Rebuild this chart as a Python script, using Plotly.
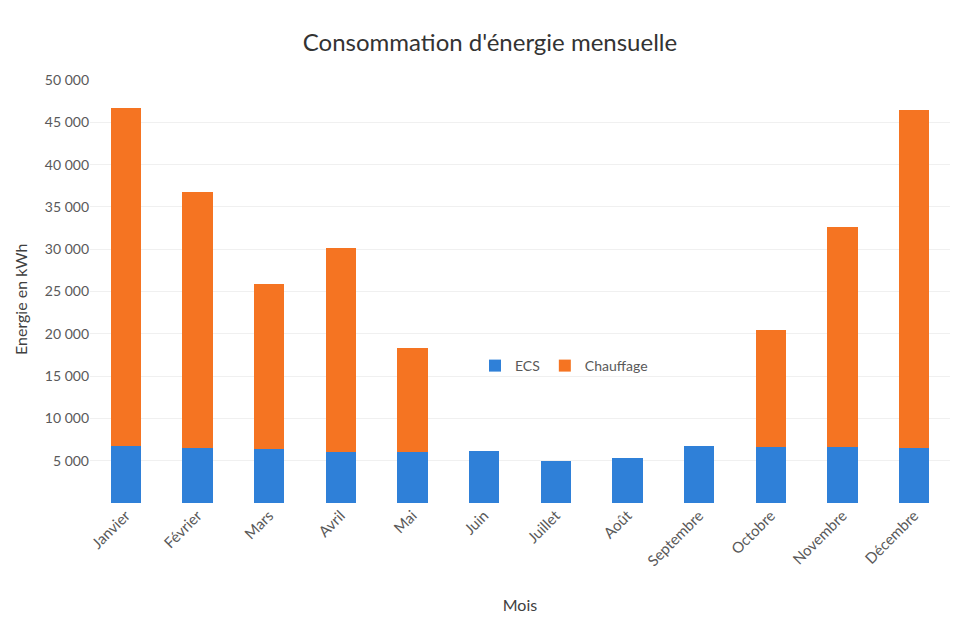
import plotly.graph_objects as go

# Monthly energy use (kWh): domestic hot water (ECS) and space heating (Chauffage)
mois = ["Janvier", "Février", "Mars", "Avril", "Mai", "Juin", "Juillet",
        "Août", "Septembre", "Octobre", "Novembre", "Décembre"]
ecs = [6700, 6500, 6400, 6000, 6000, 6100, 5000, 5300, 6700, 6600, 6600, 6500]
chauffage = [40000, 30300, 19500, 24100, 12300, 0, 0, 0, 0, 13900, 26000, 39900]
y_ticks = [5000, 10000, 15000, 20000, 25000, 30000, 35000, 40000, 45000, 50000]

W, H = 956, 625
M_L, M_R, M_T, M_B = 90, 6, 80, 122
plot_w = W - M_L - M_R
plot_h = H - M_T - M_B

font_family = "Lato, 'Open Sans', sans-serif"
text_grey = "#595959"

fig = go.Figure()
fig.add_trace(go.Bar(
    x=mois, y=ecs, name="ECS",
    marker=dict(color="#2f80d8", line=dict(width=0)),
))
fig.add_trace(go.Bar(
    x=mois, y=chauffage, name="Chauffage",
    marker=dict(color="#f57422", line=dict(width=0)),
))

fig.update_layout(
    width=W, height=H,
    barmode="stack",
    bargap=0.58,
    separators=", ",
    paper_bgcolor="white",
    plot_bgcolor="white",
    margin=dict(l=M_L, r=M_R, t=M_T, b=M_B),
    font=dict(family=font_family, color=text_grey, size=13),
    title=dict(
        text="Consommation d'énergie mensuelle",
        x=490 / W, xanchor="center",
        y=1 - 43 / H, yanchor="middle",
        font=dict(size=24, color="#333333", family=font_family),
    ),
    legend=dict(
        orientation="h",
        traceorder="normal",
        x=(475 - M_L) / plot_w, xanchor="left",
        y=(H - M_B - 366) / plot_h, yanchor="middle",
        bgcolor="rgba(0,0,0,0)",
        font=dict(size=14, color=text_grey),
        itemwidth=30,
        tracegroupgap=0,
    ),
    showlegend=True,
)

fig.update_xaxes(
    tickangle=-45,
    tickfont=dict(size=15, color=text_grey),
    showline=False,
    ticks="",
    title=dict(text="Mois", font=dict(size=16, color="#404040"), standoff=31),
)

fig.update_yaxes(
    range=[0, 50000],
    tickvals=y_ticks,
    tickformat=",d",
    tickfont=dict(size=14, color=text_grey),
    showgrid=True,
    gridcolor="#f0f0f0",
    gridwidth=1,
    zeroline=False,
    ticks="",
    ticklabelstandoff=0,
)

# Vertical axis title sits over the tick labels
fig.add_annotation(
    text="Energie en kWh",
    xref="paper", yref="paper",
    x=(20 - M_L) / plot_w, y=(H - M_B - 300) / plot_h,
    xanchor="center", yanchor="middle",
    textangle=-90,
    showarrow=False,
    font=dict(size=16, color="#404040", family=font_family),
)

fig.write_html("out.html")
